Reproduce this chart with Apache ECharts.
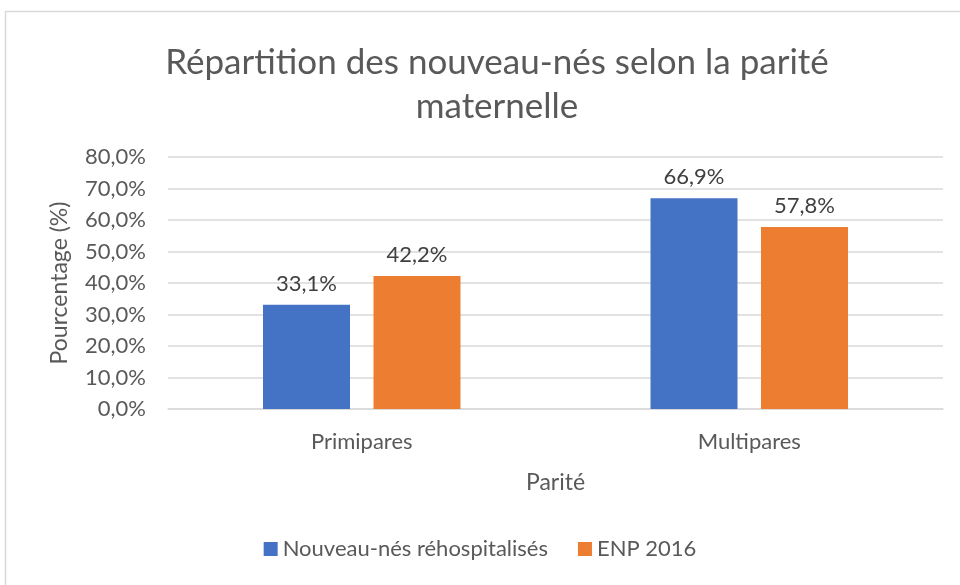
<!DOCTYPE html>
<html>
<head>
<meta charset="utf-8">
<script src="https://cdn.jsdelivr.net/npm/echarts@6/dist/echarts.min.js"></script>
<style>
    html, body { margin: 0; padding: 0; background: #ffffff; }
    #chart { width: 960px; height: 585px; }
</style>
</head>
<body>
<div id="chart"></div>
<script>
const categories = ['Primipares', 'Multipares']
const rehospValues = [33.1, 66.9]
const enpValues = [42.2, 57.8]
const seriesNames = ['Nouveau-nés réhospitalisés', 'ENP 2016']

const chart = echarts.init(document.getElementById('chart'))

const fmt = v => v.toFixed(1).replace('.', ',') + '%'
const font = 'Lato, "Open Sans", sans-serif'

const option = {
    textStyle: { fontFamily: font },
    graphic: [{
        type: 'rect',
        shape: { x: 5.5, y: 11.5, width: 1000, height: 600 },
        style: { fill: 'none', stroke: '#d9d9d9', lineWidth: 1.5 },
        silent: true
    }],
    title: {
        text: 'Répartition des nouveau-nés selon la parité\nmaternelle',
        left: 492,
        top: 36,
        textAlign: 'center',
        textStyle: {
            fontFamily: font,
            fontSize: 35,
            fontWeight: 'normal',
            color: '#595959',
            lineHeight: 44
        }
    },
    legend: {
        bottom: 20,
        left: 'center',
        itemWidth: 14,
        itemHeight: 14,
        itemGap: 30,
        icon: 'rect',
        textStyle: { fontFamily: font, fontSize: 22, color: '#595959' },
        data: seriesNames
    },
    grid: {
        left: 168,
        right: 17,
        top: 157,
        bottom: 176
    },
    xAxis: {
        type: 'category',
        data: categories,
        name: 'Parité',
        nameLocation: 'middle',
        nameGap: 62,
        nameTextStyle: { fontFamily: font, fontSize: 23, color: '#595959' },
        axisLine: { lineStyle: { color: '#d9d9d9', width: 1.5 } },
        axisTick: { show: false },
        axisLabel: { fontFamily: font, fontSize: 22, color: '#595959', margin: 22 }
    },
    yAxis: {
        type: 'value',
        min: 0,
        max: 80,
        interval: 10,
        name: 'Pourcentage (%)',
        nameLocation: 'middle',
        nameGap: 97,
        nameTextStyle: { fontFamily: font, fontSize: 23, color: '#595959' },
        axisLine: { show: false },
        axisTick: { show: false },
        splitLine: { lineStyle: { color: '#d9d9d9', width: 1.5 } },
        axisLabel: {
            fontFamily: font,
            fontSize: 22,
            color: '#595959',
            margin: 22,
            formatter: v => v.toFixed(1).replace('.', ',') + '%'
        }
    },
    series: [
        {
            name: seriesNames[0],
            type: 'bar',
            data: rehospValues,
            barWidth: 87,
            barGap: '27%',
            itemStyle: { color: '#4472c4' },
            label: {
                show: true,
                position: 'top',
                distance: 10,
                fontFamily: font,
                fontSize: 22,
                color: '#404040',
                formatter: p => fmt(p.value)
            }
        },
        {
            name: seriesNames[1],
            type: 'bar',
            data: enpValues,
            barWidth: 87,
            itemStyle: { color: '#ed7d31' },
            label: {
                show: true,
                position: 'top',
                distance: 10,
                fontFamily: font,
                fontSize: 22,
                color: '#404040',
                formatter: p => fmt(p.value)
            }
        }
    ]
}

chart.setOption(option)
</script>
</body>
</html>
